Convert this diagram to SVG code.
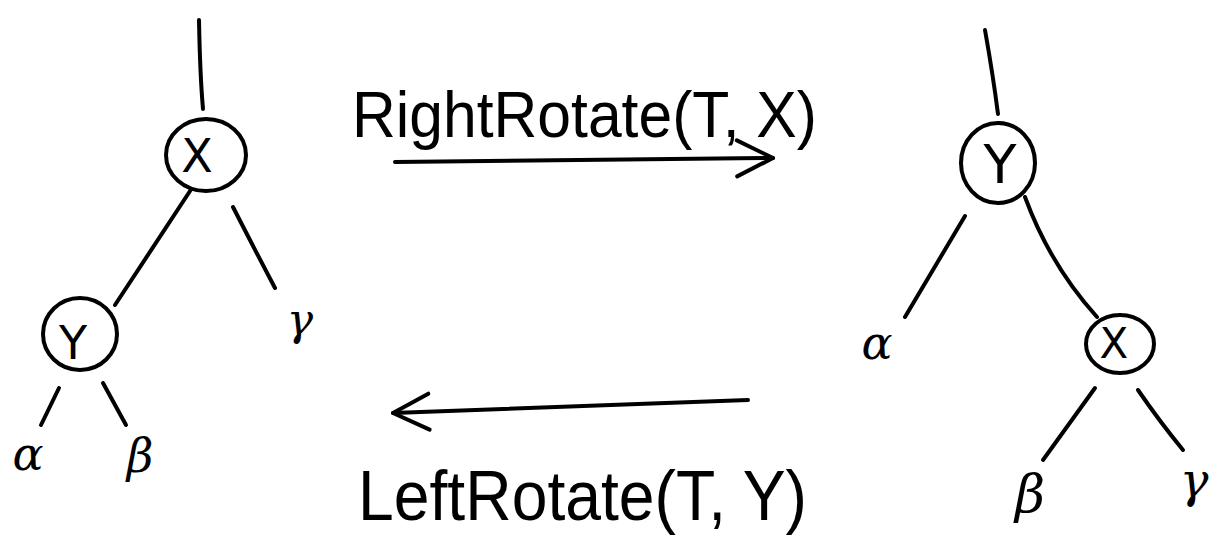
<svg xmlns="http://www.w3.org/2000/svg" width="1225" height="550" viewBox="0 0 1225 550">
<style>
.ln{fill:none;stroke:#000;stroke-width:4;stroke-linecap:round;stroke-linejoin:round}
.nd{fill:#fff;stroke:#000;stroke-width:4}
.lb{font-family:"DejaVu Sans","Liberation Sans",sans-serif;fill:#000;text-anchor:middle}
.gk{font-family:"DejaVu Serif","Liberation Serif",serif;font-style:italic;fill:#000;text-anchor:middle}
.op{font-family:"Liberation Sans","DejaVu Sans",sans-serif;fill:#000}
</style>
<defs>
<marker id="chev" viewBox="0 0 44 44" refX="40" refY="22" markerWidth="44" markerHeight="44" markerUnits="userSpaceOnUse" orient="auto">
<path d="M4,4 L40,22 L4,40" fill="none" stroke="#000" stroke-width="4" stroke-linecap="round" stroke-linejoin="round"/>
</marker>
</defs>
<rect width="1225" height="550" fill="#fff"/>
<g id="connectors">
<path class="ln" d="M199,20 Q200,75 203,109"/>
<path class="ln" d="M192,188 L115,305"/>
<path class="ln" d="M233,207 Q255,250 275,288"/>
<path class="ln" d="M59,388 L41,425"/>
<path class="ln" d="M103,383 L126,425"/>
<path class="ln" d="M985,30 Q993,75 998,114"/>
<path class="ln" d="M965,216 L905,317"/>
<path class="ln" d="M1025,197 Q1050,265 1097,317"/>
<path class="ln" d="M1095,388 L1043,460"/>
<path class="ln" d="M1138,390 Q1160,422 1183,450"/>
<path class="ln" d="M395,162 L773,158" marker-end="url(#chev)"/>
<path class="ln" d="M748,400 L393,413" marker-end="url(#chev)"/>
</g>
<g id="node-left-x">
<ellipse class="nd" cx="206" cy="155" rx="40" ry="36"/>
<text class="lb" x="197" y="172" font-size="46">X</text>
</g>
<g id="node-left-y">
<ellipse class="nd" cx="80" cy="334" rx="37" ry="36"/>
<text class="lb" x="73" y="359" font-size="46">Y</text>
</g>
<g id="node-right-y">
<ellipse class="nd" cx="998" cy="163" rx="37" ry="40"/>
<text class="lb" x="1000" y="183" font-size="54">Y</text>
</g>
<g id="node-right-x">
<ellipse class="nd" cx="1120" cy="344" rx="34" ry="29"/>
<text class="lb" x="1114" y="358" font-size="42">X</text>
</g>
<g id="leaves">
<text class="gk" x="28" y="470" font-size="46">α</text>
<text class="gk" x="140" y="472" font-size="46">β</text>
<text class="gk" x="300" y="335" font-size="44">γ</text>
<text class="gk" x="877" y="359" font-size="46">α</text>
<text class="gk" x="1030" y="512" font-size="52">β</text>
<text class="gk" x="1194" y="497" font-size="48">γ</text>
</g>
<g id="labels">
<text class="op" x="352" y="137" font-size="64" textLength="465" lengthAdjust="spacingAndGlyphs">RightRotate(T, X)</text>
<text class="op" x="358" y="520" font-size="70" textLength="449" lengthAdjust="spacingAndGlyphs">LeftRotate(T, Y)</text>
</g>
</svg>
